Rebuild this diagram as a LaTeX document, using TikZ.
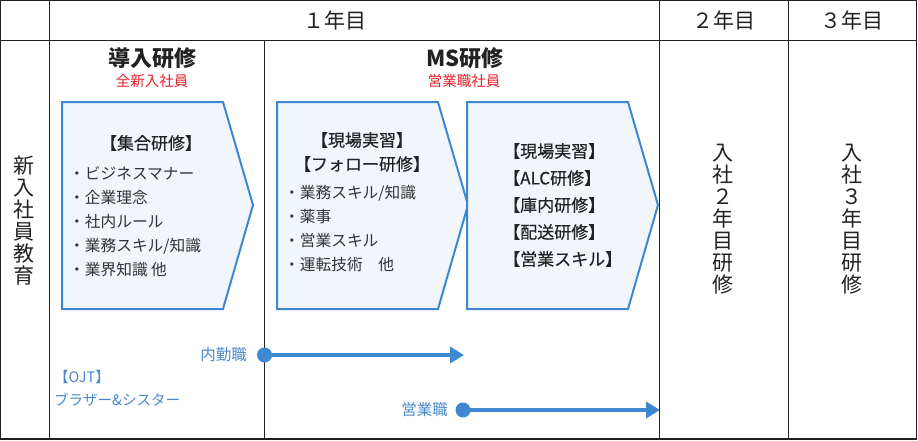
\documentclass[tikz,border=0pt]{standalone}
\usepackage{fontspec}
\setmainfont{Noto Sans CJK JP}
\newfontfamily\medfont[FakeBold=0.35]{Noto Sans CJK JP}
\usetikzlibrary{arrows.meta}
\definecolor{gridc}{HTML}{222222}
\definecolor{boxline}{HTML}{3E88D2}
\definecolor{boxfill}{HTML}{F1F6FC}
\definecolor{redt}{HTML}{E8202A}
\definecolor{bluet}{HTML}{4A88CC}
\definecolor{txt}{HTML}{333333}
\tikzset{
  gridline/.style={draw=gridc, line width=1.3pt},
  thingrid/.style={draw=gridc, line width=1pt},
  pentabox/.style={draw=boxline, fill=boxfill, line width=2pt, line join=miter},
  hdr/.style={font=\fontsize{21}{22}\selectfont, text=gridc, inner sep=0pt},
  vtext/.style={font=\fontsize{21}{22}\selectfont, text=gridc, align=center, inner sep=0pt},
  title/.style={font=\fontsize{22}{24}\bfseries\selectfont, text=gridc, inner sep=0pt},
  sub/.style={font=\fontsize{14.5}{16}\selectfont, text=redt, inner sep=0pt},
  boxhead/.style={font=\medfont\fontsize{17}{24}\selectfont, text=gridc, inner sep=0pt, align=center},
  items/.style={font=\fontsize{15.7}{24}\selectfont, text=txt, inner sep=0pt, align=left},
  items3/.style={font=\medfont\fontsize{17}{27}\selectfont, text=gridc, inner sep=0pt, align=left},
  lbl/.style={font=\fontsize{14.5}{23}\selectfont, text=bluet, inner sep=0pt},
  flow/.style={draw=boxline, line width=3.5pt, -{Triangle[length=14pt,width=16pt]}, shorten >=0pt},
  dot/.style={fill=boxline},
}
\begin{document}
\begin{tikzpicture}[x=1pt,y=-1pt]
\useasboundingbox (0,0) rectangle (918,440);
\fill[white] (0,0) rectangle (918,440);
% grid
\draw[gridline] (0.7,0.7) rectangle (916.8,439);
\draw[gridline] (0.7,40.5) -- (916.8,40.5);
\draw[gridline] (49.5,0.7) -- (49.5,439);
\draw[thingrid] (264.5,40.5) -- (264.5,439);
\draw[thingrid] (659.5,0.7) -- (659.5,439);
\draw[gridline] (788.5,0.7) -- (788.5,439);
% headers
\node[hdr] (y1) at (335,20) {１年目};
\node[hdr] (y2) at (724,20) {２年目};
\node[hdr] (y3) at (852,20) {３年目};
% left column
\node[vtext] (left) at (24,221) {新\\入\\社\\員\\教\\育};
% year 2 and 3
\node[vtext] (v2) at (723,219) {入\\社\\２\\年\\目\\研\\修};
\node[vtext] (v3) at (852,219) {入\\社\\３\\年\\目\\研\\修};
% titles
\node[title] (t1) at (152,58) {導入研修};
\node[sub] (s1) at (152,81) {全新入社員};
\node[title] (t2) at (465,58) {MS研修};
\node[sub] (s2) at (464,81) {営業職社員};
% boxes
\draw[pentabox] (62,102) -- (223,102) -- (253,205) -- (223,309) -- (62,309) -- cycle;
\draw[pentabox] (277,102) -- (438,102) -- (468,205) -- (438,309) -- (277,309) -- cycle;
\draw[pentabox] (467,102) -- (628,102) -- (658,205) -- (628,309) -- (467,309) -- cycle;
% box 1 text
\node[boxhead] (h1) at (151,143) {【集合研修】};
\node[items, anchor=west] (i1) at (69,222) {・ビジネスマナー\\・企業理念\\・社内ルール\\・業務スキル/知識\\・業界知識 他};
% box 2 text
\node[boxhead] (h2) at (362,152) {【現場実習】\\【フォロー研修】};
\node[items, anchor=west] (i2) at (284,229) {・業務スキル/知識\\・薬事\\・営業スキル\\・運転技術\quad 他};
% box 3 text
\node[items3, anchor=west] (i3) at (503,205) {【現場実習】\\【ALC研修】\\【庫内研修】\\【配送研修】\\【営業スキル】};
% OJT
\node[lbl, anchor=west] (ojt) at (54,377) {【OJT】};
\node[lbl, anchor=west] (bs) at (54,400) {ブラザー\&シスター};
% flows
\coordinate (a1s) at (264.5,355);
\coordinate (a1e) at (464,355);
\coordinate (a2s) at (463,410);
\coordinate (a2e) at (660,410);
\node[lbl, anchor=east, font=\fontsize{15.5}{18}\selectfont] (naikin) at (247,355) {内勤職};
\node[lbl, anchor=east, font=\fontsize{15.5}{18}\selectfont] (eigyo) at (448,410) {営業職};
\draw[flow] (a1s) -- (a1e);
\fill[dot] (a1s) circle (7.5);
\draw[flow] (a2s) -- (a2e);
\fill[dot] (a2s) circle (7.5);
\end{tikzpicture}
\end{document}
